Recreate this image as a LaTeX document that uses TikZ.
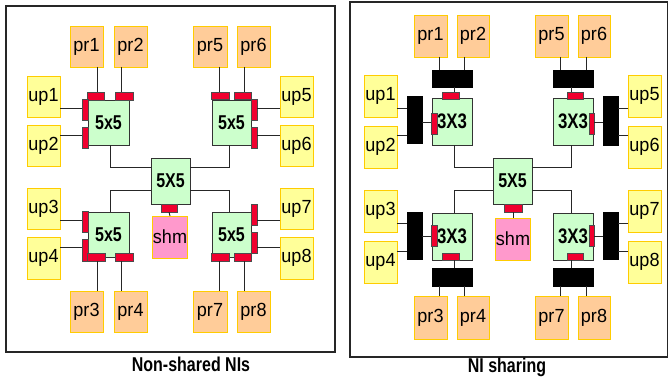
\documentclass[tikz,border=0pt]{standalone}
\usepackage{fontspec}
\setmainfont{Liberation Sans}
\newfontfamily\lblfont[FakeStretch=0.95]{Liberation Sans}
\newfontfamily\rtfont[FakeStretch=0.8]{Liberation Sans}
\definecolor{prfill}{HTML}{FFCC99}
\definecolor{upfill}{HTML}{FFFF99}
\definecolor{goldedge}{HTML}{FFCC00}
\definecolor{rtfill}{HTML}{CCFFCC}
\definecolor{nired}{HTML}{F0002E}
\definecolor{shmfill}{HTML}{FF99CC}
\tikzset{
  base/.style={rectangle,inner sep=0pt,outer sep=0pt},
  prbox/.style={base,fill=prfill,draw=goldedge,line width=1pt,font=\lblfont\fontsize{19}{19}\selectfont},
  upbox/.style={base,fill=upfill,draw=goldedge,line width=1pt,font=\lblfont\fontsize{19}{19}\selectfont},
  shmbox/.style={base,fill=shmfill,draw=goldedge,line width=1pt,font=\lblfont\fontsize{19}{19}\selectfont},
  router/.style={base,fill=rtfill,draw=black!80,line width=0.9pt,font=\rtfont\bfseries\fontsize{20}{20}\selectfont},
  router3/.style={router,font=\rtfont\bfseries\fontsize{21}{21}\selectfont},
  nib/.style={base,fill=nired,draw=black!70,line width=0.5pt},
  shbar/.style={base,fill=black,draw=black},
  link/.style={draw=black!85,line width=0.9pt},
  frame/.style={draw=black!85,line width=1.3pt},
  caption/.style={font=\rtfont\bfseries\fontsize{20}{20}\selectfont,inner sep=0pt}
}
% box from its two corners (left, top, right, bottom)
\newcommand\bx[7]{\node[#2,minimum width={(#5)-(#3)},minimum height={(#6)-(#4)}] (#1) at ({((#3)+(#5))/2},{((#4)+(#6))/2}) {#7};}
\begin{document}
\begin{tikzpicture}[x=1pt,y=-1pt]
\useasboundingbox (0,0) rectangle (669,383);
\fill[white] (0,0) rectangle (669,383);

% ================= left panel: one NI per core =================
\draw[frame] (6,6) rectangle (335,352);
\node[caption] (Lcap) at (191,364) {Non-shared NIs};

\bx{L-pr1}{prbox}{70}{26}{103}{67}{pr1}
\bx{L-pr2}{prbox}{114}{26}{147}{67}{pr2}
\bx{L-pr5}{prbox}{193}{26}{227}{67}{pr5}
\bx{L-pr6}{prbox}{237}{26}{270}{67}{pr6}
\bx{L-up1}{upbox}{27}{76}{60}{117}{up1}
\bx{L-up2}{upbox}{27}{125}{60}{166}{up2}
\bx{L-up5}{upbox}{280}{76}{313}{117}{up5}
\bx{L-up6}{upbox}{280}{125}{313}{166}{up6}
\bx{L-up3}{upbox}{27}{188}{60}{229}{up3}
\bx{L-up4}{upbox}{27}{237}{60}{279}{up4}
\bx{L-up7}{upbox}{280}{188}{313}{229}{up7}
\bx{L-up8}{upbox}{280}{237}{313}{279}{up8}
\bx{L-pr3}{prbox}{70}{291}{103}{332}{pr3}
\bx{L-pr4}{prbox}{114}{291}{147}{332}{pr4}
\bx{L-pr7}{prbox}{193}{291}{227}{332}{pr7}
\bx{L-pr8}{prbox}{237}{291}{270}{332}{pr8}

\bx{L-r1}{router}{88}{100}{129}{145}{5x5}
\bx{L-r2}{router}{212}{100}{251}{145}{5x5}
\bx{L-r3}{router}{88}{212}{129}{257}{5x5}
\bx{L-r4}{router}{212}{212}{251}{257}{5x5}
\bx{L-c}{router}{151}{158}{190}{204}{5X5}
\bx{L-shm}{shmbox}{153}{216}{187}{258}{shm}

% network interfaces
\bx{L-t1a}{nib}{87}{92}{104}{100}{}
\bx{L-t1b}{nib}{115}{92}{133}{100}{}
\bx{L-l1a}{nib}{82}{99}{88}{120}{}
\bx{L-l1b}{nib}{82}{127}{88}{148}{}
\bx{L-t2a}{nib}{211}{92}{229}{99}{}
\bx{L-t2b}{nib}{234}{92}{251}{99}{}
\bx{L-r2a}{nib}{251}{99}{257}{120}{}
\bx{L-r2b}{nib}{251}{127}{257}{148}{}
\bx{L-l3a}{nib}{82}{211}{88}{232}{}
\bx{L-l3b}{nib}{82}{239}{88}{261}{}
\bx{L-b3a}{nib}{87}{253}{105}{261}{}
\bx{L-b3b}{nib}{115}{253}{133}{261}{}
\bx{L-r4a}{nib}{251}{204}{257}{225}{}
\bx{L-r4b}{nib}{251}{232}{257}{253}{}
\bx{L-b4a}{nib}{211}{253}{229}{261}{}
\bx{L-b4b}{nib}{234}{253}{251}{261}{}
\bx{L-cb}{nib}{161}{204}{177}{212}{}

% links
\draw[link] (L-pr1.south -| 97,0) -- (L-t1a.north -| 97,0);
\draw[link] (L-pr2.south -| 121,0) -- (L-t1b.north -| 121,0);
\draw[link] (L-pr5.south -| 219,0) -- (L-t2a.north -| 219,0);
\draw[link] (L-pr6.south -| 244,0) -- (L-t2b.north -| 244,0);
\draw[link] (L-up1.east |- 0,108) -- (L-l1a.west |- 0,108);
\draw[link] (L-up2.east |- 0,135) -- (L-l1b.west |- 0,135);
\draw[link] (L-up5.west |- 0,108) -- (L-r2a.east |- 0,108);
\draw[link] (L-up6.west |- 0,135) -- (L-r2b.east |- 0,135);
\draw[link] (L-up3.east |- 0,220) -- (L-l3a.west |- 0,220);
\draw[link] (L-up4.east |- 0,247) -- (L-l3b.west |- 0,247);
\draw[link] (L-up7.west |- 0,220) -- (L-r4a.east |- 0,220);
\draw[link] (L-up8.west |- 0,247) -- (L-r4b.east |- 0,247);
\draw[link] (L-pr3.north -| 97,0) -- (L-b3a.south -| 97,0);
\draw[link] (L-pr4.north -| 121,0) -- (L-b3b.south -| 121,0);
\draw[link] (L-pr7.north -| 219,0) -- (L-b4a.south -| 219,0);
\draw[link] (L-pr8.north -| 244,0) -- (L-b4b.south -| 244,0);
\draw[link] (L-r1.south -| 110,0) |- (L-c.west |- 0,167);
\draw[link] (L-r2.south -| 229,0) |- (L-c.east |- 0,167);
\draw[link] (L-c.west |- 0,190) -| (L-r3.north -| 110,0);
\draw[link] (L-c.east |- 0,190) -| (L-r4.north -| 229,0);
\draw[link] (L-cb.south) -- (L-shm.north);

% ================= right panel: shared NIs =================
\draw[frame] (350,2) rectangle (667.5,357);
\node[caption] (Rcap) at (507,367) {NI sharing};

\bx{R-pr1}{prbox}{414}{15}{447}{57}{pr1}
\bx{R-pr2}{prbox}{457}{15}{489}{57}{pr2}
\bx{R-pr5}{prbox}{535}{15}{568}{57}{pr5}
\bx{R-pr6}{prbox}{578}{15}{610}{57}{pr6}
\bx{R-up1}{upbox}{364}{75}{397}{117}{up1}
\bx{R-up2}{upbox}{364}{126}{397}{168}{up2}
\bx{R-up5}{upbox}{628}{75}{661}{117}{up5}
\bx{R-up6}{upbox}{628}{126}{661}{168}{up6}
\bx{R-up3}{upbox}{364}{190}{397}{232}{up3}
\bx{R-up4}{upbox}{364}{241}{397}{283}{up4}
\bx{R-up7}{upbox}{628}{190}{661}{232}{up7}
\bx{R-up8}{upbox}{628}{241}{661}{283}{up8}
\bx{R-pr3}{prbox}{414}{296}{447}{339}{pr3}
\bx{R-pr4}{prbox}{457}{296}{489}{339}{pr4}
\bx{R-pr7}{prbox}{535}{296}{568}{339}{pr7}
\bx{R-pr8}{prbox}{578}{296}{610}{339}{pr8}

\bx{R-r1}{router3}{432}{98}{472}{145}{3X3}
\bx{R-r2}{router3}{553}{98}{593}{145}{3X3}
\bx{R-r3}{router3}{432}{213}{472}{260}{3X3}
\bx{R-r4}{router3}{553}{213}{593}{260}{3X3}
\bx{R-c}{router}{493}{158}{532}{204}{5X5}
\bx{R-shm}{shmbox}{497}{218}{529}{260}{shm}

% shared network interfaces
\bx{R-t1}{nib}{442}{92}{459}{99}{}
\bx{R-l1}{nib}{431}{113}{437}{134}{}
\bx{R-t2}{nib}{567}{92}{583}{99}{}
\bx{R-r2n}{nib}{589}{113}{594}{134}{}
\bx{R-l3}{nib}{431}{225}{437}{246}{}
\bx{R-b3}{nib}{442}{253}{459}{260}{}
\bx{R-r4n}{nib}{589}{225}{594}{246}{}
\bx{R-b4}{nib}{567}{253}{583}{260}{}
\bx{R-cb}{nib}{504}{204}{522}{212}{}

\bx{R-k1t}{shbar}{432}{70}{472}{87}{}
\bx{R-k1l}{shbar}{407}{96}{422}{143}{}
\bx{R-k2t}{shbar}{553}{70}{593}{87}{}
\bx{R-k2r}{shbar}{603}{96}{618}{145}{}
\bx{R-k3l}{shbar}{407}{212}{422}{259}{}
\bx{R-k3b}{shbar}{432}{268}{472}{286}{}
\bx{R-k4r}{shbar}{603}{212}{618}{259}{}
\bx{R-k4b}{shbar}{553}{268}{593}{286}{}

% links
\draw[link] (R-pr1.south -| 439,0) -- (R-k1t.north -| 439,0);
\draw[link] (R-pr2.south -| 464,0) -- (R-k1t.north -| 464,0);
\draw[link] (R-k1t.south -| 454,0) -- (R-t1.north -| 454,0);
\draw[link] (R-up1.east |- 0,108) -- (R-k1l.west |- 0,108);
\draw[link] (R-up2.east |- 0,135) -- (R-k1l.west |- 0,135);
\draw[link] (R-k1l.east |- 0,122) -- (R-l1.west |- 0,122);

\draw[link] (R-pr5.south -| 560,0) -- (R-k2t.north -| 560,0);
\draw[link] (R-pr6.south -| 586,0) -- (R-k2t.north -| 586,0);
\draw[link] (R-k2t.south -| 571,0) -- (R-t2.north -| 571,0);
\draw[link] (R-up5.west |- 0,108) -- (R-k2r.east |- 0,108);
\draw[link] (R-up6.west |- 0,135) -- (R-k2r.east |- 0,135);
\draw[link] (R-k2r.west |- 0,122) -- (R-r2n.east |- 0,122);

\draw[link] (R-up3.east |- 0,223) -- (R-k3l.west |- 0,223);
\draw[link] (R-up4.east |- 0,251) -- (R-k3l.west |- 0,251);
\draw[link] (R-k3l.east |- 0,236) -- (R-l3.west |- 0,236);
\draw[link] (R-b3.south -| 454,0) -- (R-k3b.north -| 454,0);
\draw[link] (R-k3b.south -| 439,0) -- (R-pr3.north -| 439,0);
\draw[link] (R-k3b.south -| 464,0) -- (R-pr4.north -| 464,0);

\draw[link] (R-up7.west |- 0,223) -- (R-k4r.east |- 0,223);
\draw[link] (R-up8.west |- 0,251) -- (R-k4r.east |- 0,251);
\draw[link] (R-k4r.west |- 0,236) -- (R-r4n.east |- 0,236);
\draw[link] (R-b4.south -| 571,0) -- (R-k4b.north -| 571,0);
\draw[link] (R-k4b.south -| 560,0) -- (R-pr7.north -| 560,0);
\draw[link] (R-k4b.south -| 586,0) -- (R-pr8.north -| 586,0);

\draw[link] (R-r1.south -| 454,0) |- (R-c.west |- 0,167);
\draw[link] (R-r2.south -| 571,0) |- (R-c.east |- 0,167);
\draw[link] (R-c.west |- 0,190) -| (R-r3.north -| 454,0);
\draw[link] (R-c.east |- 0,190) -| (R-r4.north -| 571,0);
\draw[link] (R-cb.south) -- (R-shm.north);
\end{tikzpicture}
\end{document}
